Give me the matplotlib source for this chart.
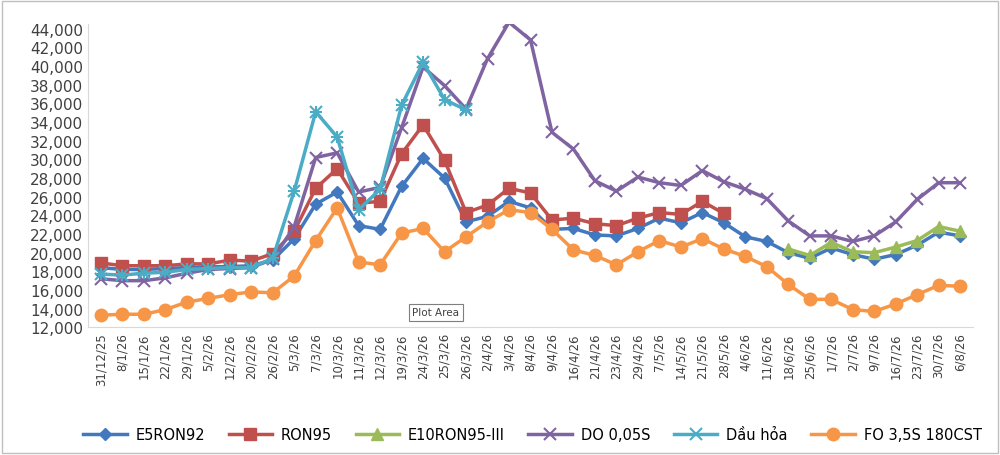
import matplotlib.pyplot as plt
import numpy as np

dates = ["31/12/25","8/1/26","15/1/26","22/1/26","29/1/26","5/2/26","12/2/26","20/2/26","26/2/26",
         "5/3/26","7/3/26","10/3/26","11/3/26","12/3/26","19/3/26","24/3/26","25/3/26","26/3/26",
         "2/4/26","3/4/26","8/4/26","9/4/26","16/4/26","21/4/26","23/4/26","29/4/26","7/5/26",
         "14/5/26","21/5/26","28/5/26","4/6/26","11/6/26","18/6/26","25/6/26","1/7/26","2/7/26",
         "9/7/26","16/7/26","23/7/26","30/7/26","6/8/26"]
N = None
e5 = [18400,18200,18200,18300,18400,18500,18500,18600,19200,21500,25200,26500,22900,22500,27100,30100,28000,23300,
      23900,25500,24800,22500,22600,21900,21800,22600,23700,23200,24300,23200,21700,21200,20000,19400,20500,19800,
      19300,19800,20800,22200,21800]
ron95 = [18900,18600,18600,18600,18800,18800,19200,19100,19900,22300,26900,29000,25300,25500,30600,33700,29900,24300,
         25100,26900,26400,23500,23700,23100,22900,23700,24300,24100,25500,24200] + [N]*11
e10 = [N]*32 + [20400,19700,21100,20100,20000,20600,21300,22800,22300]
do = [17200,17000,17000,17300,17800,18200,18300,18400,19300,22800,30200,30700,26500,27000,33400,39900,37900,35400,
      40800,44700,42800,32900,31100,27700,26600,28100,27500,27200,28800,27600,26800,25800,23400,21800,21800,21200,
      21800,23300,25700,27500,27500]
dauhoa = [17700,17600,17800,17900,18200,18300,18400,18400,19400,26600,35100,32400,24600,26800,35800,40400,36400,35300] + [N]*23
fo = [13300,13400,13400,13900,14700,15100,15500,15800,15700,17500,21300,24800,19000,18700,22100,22600,20100,21700,
      23300,24600,24300,22500,20300,19700,18700,20100,21300,20600,21500,20400,19600,18500,16600,15000,15000,13900,
      13700,14500,15500,16500,16400]

def arr(v):
    return np.array([np.nan if a is None else a for a in v], dtype=float)

fig = plt.figure(figsize=(10, 4.56), dpi=100)
ax = fig.add_axes([0.088, 0.28, 0.885, 0.665])
x = np.arange(len(dates))
series = [
    (e5, "E5RON92", "#4178be", "D", 6),
    (ron95, "RON95", "#c0504d", "s", 9),
    (e10, "E10RON95-III", "#9bbb59", "^", 9),
    (do, "DO 0,05S", "#8064a2", "x", 9),
    (dauhoa, "Dầu hỏa", "#4bacc6", "x", 9),
    (fo, "FO 3,5S 180CST", "#f79646", "o", 9),
]
for vals, name, c, m, ms in series:
    kw = dict(markeredgewidth=1.5) if m == "x" else {}
    ax.plot(x, arr(vals), color=c, lw=2.5, marker=m, markersize=ms, label=name, **kw)
# asterisk look for Dầu hỏa
ax.plot(x, arr(dauhoa), color="#4bacc6", lw=0, marker="+", markersize=9, markeredgewidth=1.5)

ax.set_ylim(12000, 44500)
ax.set_yticks(range(12000, 44001, 2000))
ax.set_yticklabels([f"{v:,}" for v in range(12000, 44001, 2000)], fontsize=11, color="#404040")
ax.set_xlim(-0.6, len(dates) - 0.4)
ax.set_xticks(x)
ax.set_xticklabels(dates, rotation=90, fontsize=8.5, color="#404040")
ax.tick_params(length=0)
for s in ["top", "right"]:
    ax.spines[s].set_visible(False)
ax.spines["left"].set_color("#d9d9d9")
ax.spines["bottom"].set_color("#d9d9d9")

ax.text(15.6, 13600, "Plot Area", fontsize=7.5, color="#404040", ha="center", va="center",
        bbox=dict(boxstyle="square,pad=0.3", fc="white", ec="#7f7f7f", lw=0.8))

fig.legend(loc="lower left", bbox_to_anchor=(0.07, 0.0), ncol=6, frameon=False, fontsize=10.5,
           handlelength=3, columnspacing=1.6, handletextpad=0.6)
fig.patches.append(plt.Rectangle((0.002, 0.004), 0.996, 0.992, transform=fig.transFigure,
                                 fill=False, ec="#bfbfbf", lw=1))
fig.savefig("out.png", dpi=100)
